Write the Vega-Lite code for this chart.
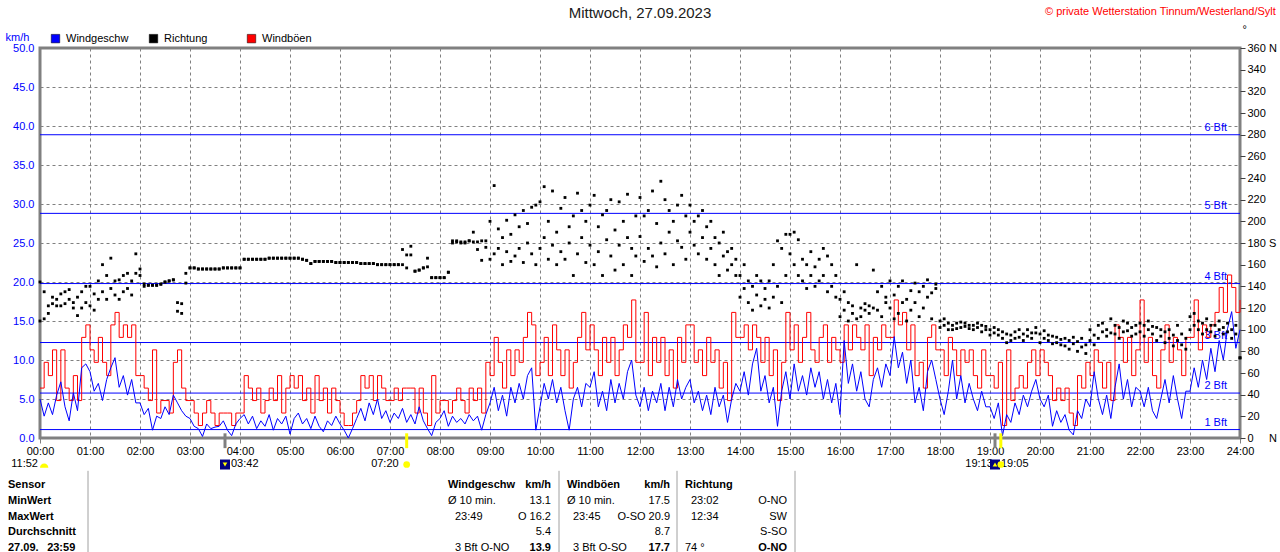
{
  "$schema": "https://vega.github.io/schema/vega-lite/v6.json",
  "width": 1200,
  "height": 390,
  "autosize": {"type": "none"},
  "padding": {"left": 40, "top": 48, "right": 40, "bottom": 114},
  "background": "white",
  "title": {
    "text": "Mittwoch, 27.09.2023",
    "anchor": "middle",
    "frame": "group",
    "font": "Liberation Sans",
    "fontSize": 15,
    "fontWeight": "normal",
    "color": "#202020",
    "offset": -15
  },
  "config": {
    "font": "Liberation Sans",
    "view": {"stroke": "#808080", "strokeWidth": 3},
    "axis": {
      "labelFont": "Liberation Sans",
      "labelFontSize": 11,
      "titleFont": "Liberation Sans",
      "titleFontSize": 11,
      "titleFontWeight": "normal",
      "gridColor": "#808080",
      "gridDash": [3, 3],
      "gridWidth": 1,
      "gridOpacity": 1,
      "domain": false,
      "labelFlush": false,
      "labelOverlap": false,
      "labelSeparation": 0
    },
    "text": {"font": "Liberation Sans", "fontSize": 11}
  },
  "datasets": {
    "bft": [
      {"stufe": "1 Bft", "kmh": 1.08},
      {"stufe": "2 Bft", "kmh": 5.76},
      {"stufe": "3 Bft", "kmh": 12.24},
      {"stufe": "4 Bft", "kmh": 19.8},
      {"stufe": "5 Bft", "kmh": 28.8},
      {"stufe": "6 Bft", "kmh": 38.88}
    ],
    "meta": [
      {"tageslaenge": "11:52", "copyright": "© private Wetterstation Tinnum/Westerland/Sylt"}
    ],
    "ereignisse": [
      {"m": 222, "zeit": "03:42", "art": "Mond", "typ": "unter"},
      {"m": 440, "zeit": "07:20", "art": "Sonne", "typ": "auf"},
      {"m": 1146, "zeit": "19:05", "art": "Mond", "typ": "auf"},
      {"m": 1153, "zeit": "19:13", "art": "Sonne", "typ": "unter"}
    ],
    "tabelle": [
      {"zeile": 0, "spalte": 0, "text": "Sensor"},
      {"zeile": 0, "spalte": 1, "text": "Windgeschw"},
      {"zeile": 0, "spalte": 2, "text": "km/h"},
      {"zeile": 0, "spalte": 3, "text": "Windböen"},
      {"zeile": 0, "spalte": 4, "text": "km/h"},
      {"zeile": 0, "spalte": 5, "text": "Richtung"},
      {"zeile": 1, "spalte": 0, "text": "MinWert"},
      {"zeile": 1, "spalte": 1, "text": "Ø 10 min."},
      {"zeile": 1, "spalte": 2, "text": "13.1"},
      {"zeile": 1, "spalte": 3, "text": "Ø 10 min."},
      {"zeile": 1, "spalte": 4, "text": "17.5"},
      {"zeile": 1, "spalte": 9, "text": "23:02"},
      {"zeile": 1, "spalte": 6, "text": "O-NO"},
      {"zeile": 2, "spalte": 0, "text": "MaxWert"},
      {"zeile": 2, "spalte": 7, "text": "23:49"},
      {"zeile": 2, "spalte": 2, "text": "O 16.2"},
      {"zeile": 2, "spalte": 8, "text": "23:45"},
      {"zeile": 2, "spalte": 4, "text": "O-SO 20.9"},
      {"zeile": 2, "spalte": 9, "text": "12:34"},
      {"zeile": 2, "spalte": 6, "text": "SW"},
      {"zeile": 3, "spalte": 0, "text": "Durchschnitt"},
      {"zeile": 3, "spalte": 2, "text": "5.4"},
      {"zeile": 3, "spalte": 4, "text": "8.7"},
      {"zeile": 3, "spalte": 6, "text": "S-SO"},
      {"zeile": 4, "spalte": 0, "text": "27.09.\u2002 23:59"},
      {"zeile": 4, "spalte": 7, "text": "3 Bft O-NO"},
      {"zeile": 4, "spalte": 2, "text": "13.9"},
      {"zeile": 4, "spalte": 8, "text": "3 Bft O-SO"},
      {"zeile": 4, "spalte": 4, "text": "17.7"},
      {"zeile": 4, "spalte": 5, "text": "74 °"},
      {"zeile": 4, "spalte": 6, "text": "O-NO"}
    ],
    "trenner": [{"nr": 0}, {"nr": 1}, {"nr": 2}, {"nr": 3}],
    "wind": [
      {"m":0,"s":5.0,"g":6.4,"d":144,"d2":108},
      {"m":5,"s":2.8,"g":9.7,"d":110,"d2":135},
      {"m":10,"s":4.5,"g":8.0,"d":122,"d2":115},
      {"m":15,"s":3.0,"g":11.3,"d":124,"d2":130},
      {"m":20,"s":5.5,"g":4.8,"d":122,"d2":128},
      {"m":25,"s":7.2,"g":11.3,"d":133,"d2":122},
      {"m":30,"s":4.0,"g":6.4,"d":135,"d2":124},
      {"m":35,"s":2.2,"g":4.8,"d":128,"d2":137},
      {"m":40,"s":5.8,"g":8.0,"d":125,"d2":120},
      {"m":45,"s":3.5,"g":4.8,"d":113,"d2":130},
      {"m":50,"s":9.0,"g":12.9,"d":135,"d2":120},
      {"m":55,"s":9.5,"g":14.5,"d":140,"d2":125},
      {"m":60,"s":8.5,"g":11.3,"d":122,"d2":140},
      {"m":65,"s":6.0,"g":9.7,"d":133,"d2":118},
      {"m":70,"s":7.0,"g":12.9,"d":145,"d2":128},
      {"m":75,"s":4.8,"g":9.7,"d":160,"d2":135},
      {"m":80,"s":7.5,"g":8.0,"d":128,"d2":150},
      {"m":85,"s":9.0,"g":14.5,"d":138,"d2":166},
      {"m":90,"s":10.3,"g":16.1,"d":132,"d2":145},
      {"m":95,"s":6.5,"g":12.9,"d":128,"d2":146},
      {"m":100,"s":8.0,"g":14.5,"d":150,"d2":135},
      {"m":105,"s":5.5,"g":12.9,"d":138,"d2":152},
      {"m":110,"s":7.5,"g":14.5,"d":145,"d2":132},
      {"m":115,"s":4.5,"g":8.0,"d":170,"d2":152},
      {"m":120,"s":4.5,"g":8.0,"d":156,"d2":150},
      {"m":125,"s":3.0,"g":6.4,"d":142,"d2":140},
      {"m":130,"s":3.8,"g":4.8,"d":141,"d2":141},
      {"m":135,"s":1.0,"g":11.3,"d":141,"d2":141},
      {"m":140,"s":2.8,"g":3.2,"d":141,"d2":141},
      {"m":145,"s":2.5,"g":4.8,"d":142,"d2":142},
      {"m":150,"s":4.0,"g":4.8,"d":144,"d2":144},
      {"m":155,"s":3.0,"g":3.2,"d":145,"d2":145},
      {"m":160,"s":5.5,"g":9.7,"d":146,"d2":146},
      {"m":165,"s":4.5,"g":11.3,"d":125,"d2":117},
      {"m":170,"s":3.5,"g":6.4,"d":124,"d2":115},
      {"m":175,"s":2.8,"g":4.8,"d":152,"d2":143},
      {"m":180,"s":2.5,"g":4.8,"d":157,"d2":157},
      {"m":185,"s":1.5,"g":3.2,"d":157,"d2":157},
      {"m":190,"s":1.2,"g":1.6,"d":156,"d2":156},
      {"m":195,"s":0.2,"g":3.2,"d":156,"d2":156},
      {"m":200,"s":1.8,"g":4.8,"d":156,"d2":156},
      {"m":205,"s":1.2,"g":3.2,"d":156,"d2":156},
      {"m":210,"s":1.4,"g":1.6,"d":156,"d2":156},
      {"m":215,"s":1.5,"g":3.2,"d":156,"d2":156},
      {"m":220,"s":2.2,"g":3.2,"d":157,"d2":157},
      {"m":225,"s":1.0,"g":3.2,"d":157,"d2":157},
      {"m":230,"s":0.3,"g":1.6,"d":157,"d2":157},
      {"m":235,"s":1.8,"g":3.2,"d":157,"d2":157},
      {"m":240,"s":2.5,"g":3.2,"d":157,"d2":157},
      {"m":245,"s":3.0,"g":8.0,"d":165,"d2":165},
      {"m":250,"s":1.8,"g":6.4,"d":165,"d2":165},
      {"m":255,"s":2.8,"g":4.8,"d":165,"d2":165},
      {"m":260,"s":1.2,"g":6.4,"d":165,"d2":165},
      {"m":265,"s":2.2,"g":3.2,"d":165,"d2":165},
      {"m":270,"s":1.5,"g":4.8,"d":165,"d2":165},
      {"m":275,"s":3.0,"g":6.4,"d":166,"d2":166},
      {"m":280,"s":1.0,"g":4.8,"d":166,"d2":166},
      {"m":285,"s":2.5,"g":8.0,"d":166,"d2":166},
      {"m":290,"s":1.8,"g":3.2,"d":166,"d2":166},
      {"m":295,"s":2.8,"g":6.4,"d":166,"d2":166},
      {"m":300,"s":0.5,"g":8.0,"d":166,"d2":166},
      {"m":305,"s":2.5,"g":6.4,"d":166,"d2":166},
      {"m":310,"s":3.2,"g":8.0,"d":166,"d2":166},
      {"m":315,"s":1.8,"g":4.8,"d":165,"d2":165},
      {"m":320,"s":2.5,"g":6.4,"d":164,"d2":164},
      {"m":325,"s":1.2,"g":3.2,"d":161,"d2":161},
      {"m":330,"s":2.8,"g":8.0,"d":163,"d2":163},
      {"m":335,"s":1.5,"g":4.8,"d":163,"d2":163},
      {"m":340,"s":0.8,"g":6.4,"d":163,"d2":163},
      {"m":345,"s":2.2,"g":3.2,"d":163,"d2":163},
      {"m":350,"s":1.6,"g":6.4,"d":163,"d2":163},
      {"m":355,"s":2.8,"g":4.8,"d":162,"d2":162},
      {"m":360,"s":1.8,"g":3.2,"d":162,"d2":162},
      {"m":365,"s":1.0,"g":1.6,"d":162,"d2":162},
      {"m":370,"s":0.0,"g":1.6,"d":162,"d2":162},
      {"m":375,"s":1.2,"g":3.2,"d":162,"d2":162},
      {"m":380,"s":2.5,"g":4.8,"d":162,"d2":162},
      {"m":385,"s":3.8,"g":8.0,"d":161,"d2":161},
      {"m":390,"s":2.2,"g":6.4,"d":161,"d2":161},
      {"m":395,"s":4.5,"g":8.0,"d":161,"d2":161},
      {"m":400,"s":3.0,"g":4.8,"d":161,"d2":161},
      {"m":405,"s":5.0,"g":8.0,"d":160,"d2":160},
      {"m":410,"s":2.5,"g":6.4,"d":160,"d2":160},
      {"m":415,"s":3.5,"g":4.8,"d":160,"d2":160},
      {"m":420,"s":2.0,"g":4.8,"d":160,"d2":160},
      {"m":425,"s":3.2,"g":6.4,"d":160,"d2":160},
      {"m":430,"s":2.5,"g":4.8,"d":160,"d2":160},
      {"m":435,"s":3.8,"g":6.4,"d":174,"d2":160},
      {"m":440,"s":2.0,"g":6.4,"d":169,"d2":157},
      {"m":445,"s":3.0,"g":6.4,"d":177,"d2":169},
      {"m":450,"s":1.8,"g":3.2,"d":154,"d2":154},
      {"m":455,"s":4.0,"g":6.4,"d":155,"d2":155},
      {"m":460,"s":2.2,"g":3.2,"d":157,"d2":157},
      {"m":465,"s":1.2,"g":1.6,"d":166,"d2":158},
      {"m":470,"s":0.3,"g":8.0,"d":148,"d2":148},
      {"m":475,"s":2.0,"g":3.2,"d":148,"d2":148},
      {"m":480,"s":2.5,"g":4.8,"d":148,"d2":148},
      {"m":485,"s":3.5,"g":4.8,"d":148,"d2":148},
      {"m":490,"s":1.5,"g":3.2,"d":153,"d2":153},
      {"m":495,"s":2.8,"g":4.8,"d":182,"d2":180},
      {"m":500,"s":2.0,"g":6.4,"d":181,"d2":182},
      {"m":505,"s":2.5,"g":4.8,"d":180,"d2":181},
      {"m":510,"s":1.8,"g":3.2,"d":181,"d2":180},
      {"m":515,"s":3.0,"g":6.4,"d":182,"d2":182},
      {"m":520,"s":2.2,"g":4.8,"d":190,"d2":181},
      {"m":525,"s":2.8,"g":6.4,"d":174,"d2":181},
      {"m":530,"s":1.0,"g":3.2,"d":164,"d2":182},
      {"m":535,"s":3.0,"g":9.7,"d":182,"d2":176},
      {"m":540,"s":4.5,"g":8.0,"d":165,"d2":200},
      {"m":545,"s":6.5,"g":12.9,"d":233,"d2":170},
      {"m":550,"s":3.5,"g":9.7,"d":175,"d2":193},
      {"m":555,"s":5.5,"g":6.4,"d":160,"d2":185},
      {"m":560,"s":2.8,"g":11.3,"d":172,"d2":201},
      {"m":565,"s":6.5,"g":8.0,"d":188,"d2":163},
      {"m":570,"s":4.5,"g":11.3,"d":168,"d2":206},
      {"m":575,"s":7.0,"g":9.7,"d":195,"d2":175},
      {"m":580,"s":5.0,"g":12.9,"d":162,"d2":210},
      {"m":585,"s":8.0,"g":16.1,"d":180,"d2":198},
      {"m":590,"s":9.0,"g":14.5,"d":170,"d2":213},
      {"m":595,"s":1.0,"g":8.0,"d":215,"d2":160},
      {"m":600,"s":4.0,"g":9.7,"d":175,"d2":218},
      {"m":605,"s":7.0,"g":12.9,"d":232,"d2":185},
      {"m":610,"s":5.0,"g":8.0,"d":200,"d2":165},
      {"m":615,"s":7.5,"g":14.5,"d":228,"d2":178},
      {"m":620,"s":4.5,"g":11.3,"d":190,"d2":160},
      {"m":625,"s":6.5,"g":8.0,"d":212,"d2":172},
      {"m":630,"s":3.5,"g":11.3,"d":165,"d2":222},
      {"m":635,"s":1.0,"g":6.4,"d":195,"d2":180},
      {"m":640,"s":5.0,"g":9.7,"d":150,"d2":205},
      {"m":645,"s":6.5,"g":12.9,"d":226,"d2":170},
      {"m":650,"s":4.0,"g":16.1,"d":185,"d2":210},
      {"m":655,"s":7.0,"g":11.3,"d":162,"d2":200},
      {"m":660,"s":6.5,"g":14.5,"d":178,"d2":215},
      {"m":665,"s":8.5,"g":11.3,"d":224,"d2":160},
      {"m":670,"s":4.0,"g":8.0,"d":195,"d2":172},
      {"m":675,"s":6.0,"g":12.9,"d":150,"d2":206},
      {"m":680,"s":3.5,"g":9.7,"d":210,"d2":183},
      {"m":685,"s":7.5,"g":12.9,"d":168,"d2":220},
      {"m":690,"s":4.5,"g":8.0,"d":192,"d2":155},
      {"m":695,"s":7.0,"g":11.3,"d":218,"d2":178},
      {"m":700,"s":5.0,"g":14.5,"d":160,"d2":200},
      {"m":705,"s":8.5,"g":12.9,"d":225,"d2":185},
      {"m":710,"s":10.0,"g":17.7,"d":175,"d2":150},
      {"m":715,"s":5.5,"g":9.7,"d":205,"d2":168},
      {"m":720,"s":4.0,"g":9.7,"d":186,"d2":222},
      {"m":725,"s":6.5,"g":16.1,"d":163,"d2":205},
      {"m":730,"s":3.5,"g":8.0,"d":210,"d2":175},
      {"m":735,"s":6.0,"g":12.9,"d":168,"d2":228},
      {"m":740,"s":4.5,"g":9.7,"d":198,"d2":158},
      {"m":745,"s":7.0,"g":12.9,"d":237,"d2":180},
      {"m":750,"s":3.5,"g":8.0,"d":220,"d2":170},
      {"m":755,"s":6.5,"g":11.3,"d":190,"d2":210},
      {"m":760,"s":4.0,"g":6.4,"d":160,"d2":200},
      {"m":765,"s":7.5,"g":12.9,"d":215,"d2":182},
      {"m":770,"s":5.0,"g":9.7,"d":176,"d2":224},
      {"m":775,"s":6.5,"g":14.5,"d":205,"d2":165},
      {"m":780,"s":7.5,"g":14.5,"d":190,"d2":215},
      {"m":785,"s":4.5,"g":9.7,"d":178,"d2":200},
      {"m":790,"s":6.0,"g":11.3,"d":205,"d2":170},
      {"m":795,"s":3.5,"g":8.0,"d":185,"d2":210},
      {"m":800,"s":5.5,"g":12.9,"d":165,"d2":195},
      {"m":805,"s":3.0,"g":9.7,"d":200,"d2":175},
      {"m":810,"s":6.5,"g":11.3,"d":160,"d2":185},
      {"m":815,"s":4.0,"g":6.4,"d":180,"d2":150},
      {"m":820,"s":5.5,"g":9.7,"d":168,"d2":190},
      {"m":825,"s":2.0,"g":4.8,"d":155,"d2":172},
      {"m":830,"s":5.0,"g":16.1,"d":175,"d2":160},
      {"m":835,"s":7.0,"g":12.9,"d":150,"d2":165},
      {"m":840,"s":6.0,"g":12.9,"d":150,"d2":130},
      {"m":845,"s":8.5,"g":14.5,"d":138,"d2":160},
      {"m":850,"s":5.5,"g":11.3,"d":125,"d2":145},
      {"m":855,"s":9.5,"g":14.5,"d":118,"d2":140},
      {"m":860,"s":11.5,"g":12.9,"d":132,"d2":150},
      {"m":865,"s":6.0,"g":9.7,"d":145,"d2":122},
      {"m":870,"s":8.0,"g":12.9,"d":128,"d2":138},
      {"m":875,"s":4.5,"g":8.0,"d":120,"d2":145},
      {"m":880,"s":6.5,"g":11.3,"d":160,"d2":130},
      {"m":885,"s":1.5,"g":4.8,"d":182,"d2":140},
      {"m":890,"s":6.0,"g":9.7,"d":175,"d2":125},
      {"m":895,"s":8.5,"g":16.1,"d":188,"d2":150},
      {"m":900,"s":5.0,"g":11.3,"d":170,"d2":188},
      {"m":905,"s":9.5,"g":14.5,"d":190,"d2":160},
      {"m":910,"s":6.0,"g":9.7,"d":183,"d2":150},
      {"m":915,"s":8.0,"g":12.9,"d":145,"d2":165},
      {"m":920,"s":5.5,"g":16.1,"d":160,"d2":138},
      {"m":925,"s":9.0,"g":11.3,"d":150,"d2":172},
      {"m":930,"s":6.5,"g":9.7,"d":140,"d2":158},
      {"m":935,"s":8.5,"g":12.9,"d":165,"d2":145},
      {"m":940,"s":5.0,"g":14.5,"d":175,"d2":150},
      {"m":945,"s":7.5,"g":9.7,"d":168,"d2":135},
      {"m":950,"s":4.5,"g":12.9,"d":160,"d2":140},
      {"m":955,"s":7.0,"g":11.3,"d":130,"d2":150},
      {"m":960,"s":3.0,"g":9.7,"d":128,"d2":112},
      {"m":965,"s":12.5,"g":14.5,"d":118,"d2":135},
      {"m":970,"s":7.0,"g":11.3,"d":108,"d2":125},
      {"m":975,"s":9.5,"g":14.5,"d":122,"d2":115},
      {"m":980,"s":6.0,"g":12.9,"d":160,"d2":110},
      {"m":985,"s":8.5,"g":11.3,"d":120,"d2":112},
      {"m":990,"s":5.0,"g":14.5,"d":124,"d2":118},
      {"m":995,"s":4.0,"g":8.0,"d":115,"d2":122},
      {"m":1000,"s":7.5,"g":12.9,"d":155,"d2":120},
      {"m":1005,"s":9.0,"g":11.3,"d":135,"d2":118},
      {"m":1010,"s":6.5,"g":14.5,"d":140,"d2":112},
      {"m":1015,"s":9.5,"g":12.9,"d":125,"d2":130},
      {"m":1020,"s":8.0,"g":12.9,"d":120,"d2":145},
      {"m":1025,"s":13.0,"g":17.7,"d":132,"d2":110},
      {"m":1030,"s":9.0,"g":14.5,"d":115,"d2":140},
      {"m":1035,"s":11.0,"g":16.1,"d":145,"d2":125},
      {"m":1040,"s":7.0,"g":11.3,"d":108,"d2":128},
      {"m":1045,"s":10.0,"g":14.5,"d":136,"d2":118},
      {"m":1050,"s":4.5,"g":8.0,"d":125,"d2":143},
      {"m":1055,"s":6.5,"g":9.7,"d":112,"d2":135},
      {"m":1060,"s":3.5,"g":6.4,"d":140,"d2":120},
      {"m":1065,"s":8.5,"g":12.9,"d":146,"d2":130},
      {"m":1070,"s":10.0,"g":14.5,"d":134,"d2":110},
      {"m":1075,"s":7.5,"g":11.3,"d":142,"d2":138},
      {"m":1080,"s":5.0,"g":11.3,"d":108,"d2":102},
      {"m":1085,"s":3.0,"g":8.0,"d":104,"d2":110},
      {"m":1090,"s":6.0,"g":12.9,"d":100,"d2":106},
      {"m":1095,"s":10.0,"g":11.3,"d":104,"d2":100},
      {"m":1100,"s":5.0,"g":8.0,"d":106,"d2":101},
      {"m":1105,"s":8.0,"g":11.3,"d":102,"d2":107},
      {"m":1110,"s":4.5,"g":9.7,"d":103,"d2":106},
      {"m":1115,"s":7.0,"g":11.3,"d":101,"d2":104},
      {"m":1120,"s":5.0,"g":8.0,"d":104,"d2":100},
      {"m":1125,"s":3.5,"g":6.4,"d":102,"d2":106},
      {"m":1130,"s":6.0,"g":11.3,"d":98,"d2":104},
      {"m":1135,"s":4.0,"g":8.0,"d":100,"d2":103},
      {"m":1140,"s":4.0,"g":8.0,"d":100,"d2":95},
      {"m":1145,"s":2.5,"g":6.4,"d":97,"d2":102},
      {"m":1150,"s":4.5,"g":9.7,"d":95,"d2":100},
      {"m":1155,"s":0.3,"g":1.6,"d":92,"d2":98},
      {"m":1160,"s":3.0,"g":11.3,"d":88,"d2":96},
      {"m":1165,"s":2.0,"g":4.8,"d":95,"d2":90},
      {"m":1170,"s":4.5,"g":6.4,"d":98,"d2":92},
      {"m":1175,"s":3.0,"g":8.0,"d":93,"d2":100},
      {"m":1180,"s":5.5,"g":6.4,"d":96,"d2":90},
      {"m":1185,"s":4.0,"g":9.7,"d":100,"d2":94},
      {"m":1190,"s":6.0,"g":11.3,"d":92,"d2":97},
      {"m":1195,"s":7.5,"g":8.0,"d":97,"d2":102},
      {"m":1200,"s":5.0,"g":11.3,"d":96,"d2":88},
      {"m":1205,"s":4.0,"g":9.7,"d":92,"d2":99},
      {"m":1210,"s":5.5,"g":8.0,"d":90,"d2":95},
      {"m":1215,"s":1.5,"g":4.8,"d":94,"d2":87},
      {"m":1220,"s":3.5,"g":6.4,"d":88,"d2":93},
      {"m":1225,"s":2.0,"g":4.8,"d":91,"d2":86},
      {"m":1230,"s":3.0,"g":6.4,"d":85,"d2":92},
      {"m":1235,"s":1.0,"g":3.2,"d":90,"d2":82},
      {"m":1240,"s":0.4,"g":1.6,"d":87,"d2":93},
      {"m":1245,"s":3.5,"g":8.0,"d":80,"d2":89},
      {"m":1250,"s":2.5,"g":6.4,"d":92,"d2":84},
      {"m":1255,"s":5.0,"g":9.7,"d":86,"d2":78},
      {"m":1260,"s":4.0,"g":8.0,"d":90,"d2":100},
      {"m":1265,"s":8.5,"g":11.3,"d":95,"d2":86},
      {"m":1270,"s":5.0,"g":9.7,"d":104,"d2":92},
      {"m":1275,"s":3.0,"g":6.4,"d":98,"d2":106},
      {"m":1280,"s":5.5,"g":9.7,"d":100,"d2":94},
      {"m":1285,"s":2.5,"g":4.8,"d":110,"d2":97},
      {"m":1290,"s":6.5,"g":14.5,"d":96,"d2":104},
      {"m":1295,"s":9.5,"g":12.9,"d":102,"d2":92},
      {"m":1300,"s":5.0,"g":9.7,"d":108,"d2":98},
      {"m":1305,"s":7.5,"g":12.9,"d":99,"d2":106},
      {"m":1310,"s":4.0,"g":8.0,"d":94,"d2":102},
      {"m":1315,"s":6.5,"g":11.3,"d":104,"d2":96},
      {"m":1320,"s":6.0,"g":17.7,"d":98,"d2":106},
      {"m":1325,"s":4.0,"g":9.7,"d":104,"d2":94},
      {"m":1330,"s":6.5,"g":12.9,"d":100,"d2":108},
      {"m":1335,"s":3.5,"g":8.0,"d":96,"d2":103},
      {"m":1340,"s":2.5,"g":6.4,"d":102,"d2":90},
      {"m":1345,"s":5.0,"g":11.3,"d":94,"d2":100},
      {"m":1350,"s":7.5,"g":14.5,"d":88,"d2":98},
      {"m":1355,"s":4.5,"g":9.7,"d":100,"d2":92},
      {"m":1360,"s":8.0,"g":12.9,"d":95,"d2":85},
      {"m":1365,"s":5.0,"g":11.3,"d":104,"d2":90},
      {"m":1370,"s":2.5,"g":8.0,"d":86,"d2":96},
      {"m":1375,"s":6.0,"g":12.9,"d":92,"d2":82},
      {"m":1380,"s":6.0,"g":12.9,"d":112,"d2":100},
      {"m":1385,"s":9.0,"g":17.7,"d":104,"d2":115},
      {"m":1390,"s":6.5,"g":11.3,"d":100,"d2":108},
      {"m":1395,"s":10.0,"g":14.5,"d":106,"d2":96},
      {"m":1400,"s":7.5,"g":12.9,"d":110,"d2":100},
      {"m":1405,"s":11.5,"g":14.5,"d":98,"d2":104},
      {"m":1410,"s":8.5,"g":16.1,"d":104,"d2":94},
      {"m":1415,"s":12.5,"g":19.3,"d":100,"d2":108},
      {"m":1420,"s":10.0,"g":16.1,"d":96,"d2":102},
      {"m":1425,"s":14.0,"g":20.9,"d":106,"d2":98},
      {"m":1430,"s":16.2,"g":19.3,"d":100,"d2":92},
      {"m":1435,"s":11.5,"g":16.1,"d":96,"d2":104},
      {"m":1440,"s":13.9,"g":17.7,"d":74,"d2":74}
    ]
  },
  "layer": [
    {
      "layer": [
        {
          "data": {"name": "bft"},
          "mark": {"type": "rule", "color": "#0000ff", "strokeWidth": 1},
          "encoding": {
            "y": {
              "field": "kmh",
              "type": "quantitative",
              "scale": {"domain": [0, 50], "nice": false, "zero": false},
              "axis": {
                "values": [0, 5, 10, 15, 20, 25, 30, 35, 40, 45, 50],
                "tickCount": 30,
                "labelOverlap": false,
                "labelSeparation": 0,
                "labelExpr": "format(datum.value, '.1f')",
                "labelColor": "#0000ff",
                "tickSize": 0,
                "labelPadding": 6,
                "grid": true,
                "title": "km/h",
                "titleAngle": 0,
                "titleX": -35,
                "titleY": -11,
                "titleAlign": "left",
                "titleBaseline": "middle",
                "titleColor": "#0000ff"
              }
            }
          }
        },
        {
          "data": {"name": "bft"},
          "mark": {"type": "text", "align": "right", "baseline": "alphabetic", "dx": -13, "dy": -4, "color": "#0000ff", "fontSize": 11},
          "encoding": {
            "x": {"datum": 1440, "type": "quantitative"},
            "y": {"field": "kmh", "type": "quantitative"},
            "text": {"field": "stufe"}
          }
        },
        {
          "data": {"name": "wind"},
          "mark": {"type": "line", "color": "#ff0000", "strokeWidth": 1, "interpolate": "step-after"},
          "encoding": {
            "x": {
              "field": "m",
              "type": "quantitative",
              "scale": {"domain": [0, 1440], "nice": false, "zero": false},
              "axis": {
                "values": [0, 60, 120, 180, 240, 300, 360, 420, 480, 540, 600, 660, 720, 780, 840, 900, 960, 1020, 1080, 1140, 1200, 1260, 1320, 1380, 1440],
                "tickCount": 40,
                "labelExpr": "(datum.value < 600 ? '0' : '') + (datum.value / 60) + ':00'",
                "labelColor": "#000000",
                "tickColor": "#808080",
                "tickSize": 5,
                "labelPadding": 2,
                "grid": true,
                "title": null
              }
            },
            "y": {"field": "g", "type": "quantitative"}
          }
        },
        {
          "data": {"name": "wind"},
          "mark": {"type": "line", "color": "#0000ff", "strokeWidth": 1},
          "encoding": {
            "x": {"field": "m", "type": "quantitative"},
            "y": {"field": "s", "type": "quantitative"}
          }
        },
        {
          "data": {"name": "ereignisse"},
          "mark": {"type": "rule", "strokeWidth": 3},
          "encoding": {
            "x": {"field": "m", "type": "quantitative"},
            "y": {"datum": 0.6},
            "y2": {"datum": -1.3},
            "color": {"condition": {"test": "datum.art === 'Sonne'", "value": "#ffff00"}, "value": "#808080"}
          }
        },
        {
          "data": {"name": "ereignisse"},
          "transform": [{"filter": "datum.art === 'Sonne'"}],
          "mark": {"type": "text", "align": "right", "baseline": "middle", "dx": -8, "color": "#000000", "fontSize": 11},
          "encoding": {
            "x": {"field": "m", "type": "quantitative"},
            "y": {"datum": -3.3},
            "text": {"field": "zeit"}
          }
        },
        {
          "data": {"name": "ereignisse"},
          "transform": [{"filter": "datum.art === 'Mond'"}],
          "mark": {"type": "text", "align": "left", "baseline": "middle", "dx": 6, "color": "#000000", "fontSize": 11},
          "encoding": {
            "x": {"field": "m", "type": "quantitative"},
            "y": {"datum": -3.3},
            "text": {"field": "zeit"}
          }
        },
        {
          "data": {"name": "ereignisse"},
          "transform": [{"filter": "datum.art === 'Mond'"}],
          "mark": {"type": "square", "size": 100, "color": "#000080", "opacity": 1},
          "encoding": {
            "x": {"field": "m", "type": "quantitative"},
            "y": {"datum": -3.4}
          }
        },
        {
          "data": {"name": "ereignisse"},
          "transform": [{"filter": "datum.art === 'Mond'"}],
          "mark": {"type": "point", "filled": true, "size": 22, "color": "#ffff00", "opacity": 1},
          "encoding": {
            "x": {"field": "m", "type": "quantitative"},
            "y": {"datum": -3.4},
            "shape": {"condition": {"test": "datum.typ === 'unter'", "value": "triangle-down"}, "value": "triangle-up"}
          }
        },
        {
          "data": {"name": "ereignisse"},
          "transform": [{"filter": "datum.art === 'Sonne'"}],
          "mark": {"type": "circle", "size": 45, "color": "#ffff00", "opacity": 1},
          "encoding": {
            "x": {"field": "m", "type": "quantitative"},
            "y": {"datum": -3.4}
          }
        },
        {
          "data": {"name": "meta"},
          "mark": {"type": "text", "align": "right", "baseline": "middle", "dx": -2, "color": "#000000", "fontSize": 11},
          "encoding": {
            "x": {"datum": 0},
            "y": {"datum": -3.3},
            "text": {"field": "tageslaenge"}
          }
        },
        {
          "data": {"name": "meta"},
          "mark": {"type": "point", "shape": "M-1,0.4A1,1,0,0,1,1,0.4Z", "filled": true, "size": 70, "color": "#ffff00", "opacity": 1},
          "encoding": {
            "x": {"datum": 5},
            "y": {"datum": -3.6}
          }
        },
        {
          "data": {"name": "meta"},
          "mark": {"type": "text", "align": "right", "baseline": "middle", "color": "#ff0000", "fontSize": 11},
          "encoding": {
            "x": {"datum": 1483},
            "y": {"datum": 54.6},
            "text": {"field": "copyright"}
          }
        }
      ]
    },
    {
      "data": {"name": "wind"},
      "transform": [{"fold": ["d", "d2"], "as": ["reihe", "richtung"]}],
      "mark": {"type": "square", "size": 8, "opacity": 1},
      "encoding": {
        "x": {
          "field": "m",
          "type": "quantitative",
          "scale": {"domain": [0, 1440], "nice": false, "zero": false},
          "axis": null
        },
        "y": {
          "field": "richtung",
          "type": "quantitative",
          "scale": {"domain": [0, 360], "nice": false, "zero": false},
          "axis": {
            "orient": "right",
            "values": [0, 20, 40, 60, 80, 100, 120, 140, 160, 180, 200, 220, 240, 260, 280, 300, 320, 340, 360],
            "tickCount": 40,
            "labelExpr": "datum.value == 360 ? '360 N' : datum.value == 180 ? '180 S' : datum.value == 0 ? '0\u00a0\u00a0\u00a0\u00a0\u00a0N' : datum.label",
            "labelColor": "#000000",
            "tickColor": "#404040",
            "tickSize": 5,
            "labelPadding": 2,
            "grid": false,
            "title": "°",
            "titleAngle": 0,
            "titleX": 2,
            "titleY": -19,
            "titleAlign": "left",
            "titleBaseline": "middle",
            "titleColor": "#000000"
          }
        },
        "color": {
          "datum": "Richtung",
          "scale": {"domain": ["Windgeschw", "Richtung", "Windböen"], "range": ["#0000ff", "#000000", "#ff0000"]},
          "legend": {
            "orient": "none",
            "legendX": 10,
            "legendY": -15,
            "direction": "horizontal",
            "columns": 3,
            "gridAlign": "all",
            "columnPadding": 19,
            "padding": 0,
            "title": null,
            "symbolType": "square",
            "symbolSize": 72,
            "symbolStrokeColor": "#000000",
            "symbolStrokeWidth": 0.5,
            "labelFont": "Liberation Sans",
            "labelFontSize": 11,
            "labelOffset": 5,
            "encode": {
              "labels": {"update": {"fill": {"signal": "datum.label === 'Richtung' ? '#000000' : '#0000ff'"}}}
            }
          }
        }
      }
    },
    {
      "layer": [
        {
          "data": {"name": "tabelle"},
          "mark": {
            "type": "text",
            "baseline": "middle",
            "fontSize": 11,
            "color": "#000000",
            "align": {"expr": "indexof([2, 4, 6], datum.spalte) >= 0 ? 'right' : 'left'"},
            "fontWeight": {"expr": "datum.spalte == 0 || datum.zeile == 0 || (datum.zeile == 4 && indexof([2, 4, 6], datum.spalte) >= 0) ? 'bold' : 'normal'"}
          },
          "encoding": {
            "x": {
              "field": "spalte",
              "type": "quantitative",
              "scale": {"domain": [0, 1, 2, 3, 4, 5, 6, 7, 8, 9], "range": [-32, 408, 511, 527, 630, 645, 747, 415, 533, 651], "nice": false, "zero": false},
              "axis": null
            },
            "y": {
              "field": "zeile",
              "type": "quantitative",
              "scale": {"domain": [0, 4], "range": [437, 500], "nice": false, "zero": false},
              "axis": null
            },
            "text": {"field": "text"}
          }
        },
        {
          "data": {"name": "trenner"},
          "mark": {"type": "rule", "color": "#a0a0a0", "strokeWidth": 1},
          "encoding": {
            "x": {
              "field": "nr",
              "type": "quantitative",
              "scale": {"domain": [0, 1, 2, 3], "range": [48, 519, 637, 755], "nice": false, "zero": false},
              "axis": null
            },
            "y": {"datum": -0.9},
            "y2": {"datum": 4.8}
          }
        }
      ],
      "resolve": {"scale": {"x": "independent"}}
    }
  ],
  "resolve": {"scale": {"x": "independent", "y": "independent"}}
}
